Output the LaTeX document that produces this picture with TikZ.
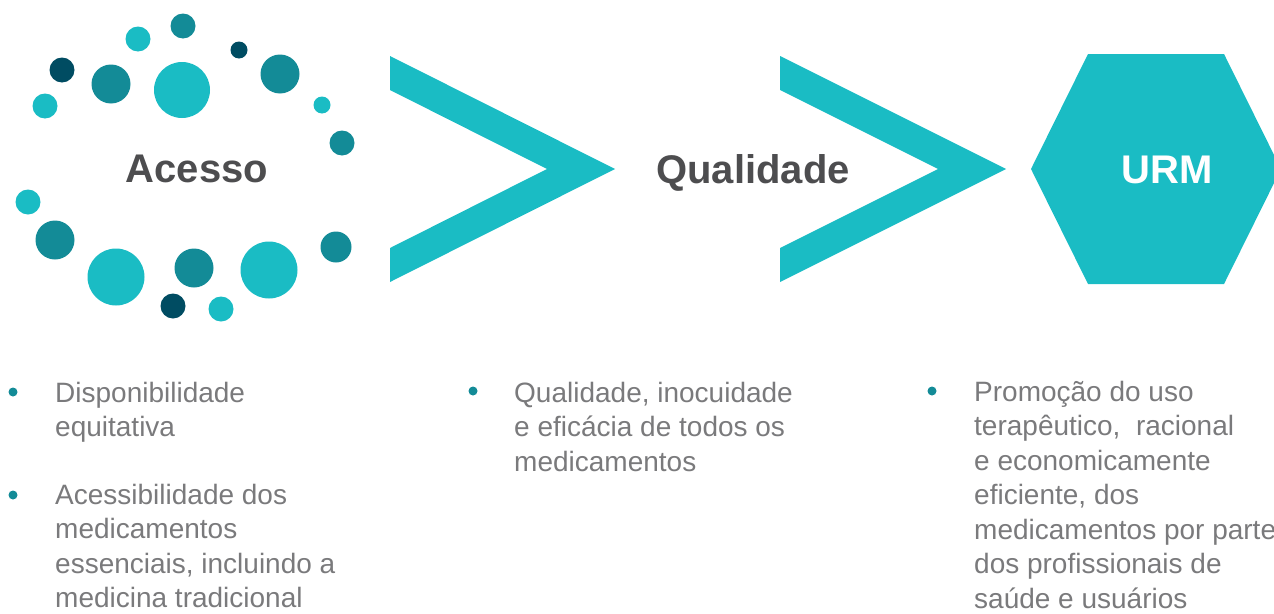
\documentclass[tikz,border=0pt]{standalone}
\usepackage{fontspec}
\setmainfont{Liberation Sans}
\definecolor{cyanc}{RGB}{26,188,196}
\definecolor{tealc}{RGB}{19,139,151}
\definecolor{darkc}{RGB}{0,76,98}
\definecolor{titlegray}{RGB}{77,77,79}
\definecolor{bodygray}{RGB}{122,122,124}
\begin{document}
\begin{tikzpicture}[x=1pt,y=-1pt,
  title/.style={font=\fontsize{40}{48}\selectfont\bfseries, text=titlegray, inner sep=0pt, anchor=base},
  body/.style={font=\fontsize{28}{34.5}\selectfont, text=bodygray, inner sep=0pt, anchor=north west, align=left},
  bullet/.style={circle, fill=tealc, minimum size=9pt, inner sep=0pt}]
\useasboundingbox (0,0) rectangle (1274,613);
% circle cluster
\fill[tealc] (183,26) circle[radius=12.5pt];
\fill[cyanc] (138,39) circle[radius=12.5pt];
\fill[darkc] (239,50) circle[radius=8.5pt];
\fill[darkc] (62,70) circle[radius=12.5pt];
\fill[tealc] (111,84) circle[radius=19.5pt];
\fill[cyanc] (182,90) circle[radius=28pt];
\fill[tealc] (280,74) circle[radius=19.5pt];
\fill[cyanc] (45,106) circle[radius=12.5pt];
\fill[cyanc] (322,105) circle[radius=8.5pt];
\fill[tealc] (342,143) circle[radius=12.5pt];
\fill[cyanc] (28,202) circle[radius=12.5pt];
\fill[tealc] (55,240) circle[radius=19.5pt];
\fill[cyanc] (116,277) circle[radius=28.5pt];
\fill[tealc] (194,268) circle[radius=19.5pt];
\fill[cyanc] (269,270) circle[radius=28.5pt];
\fill[tealc] (336,247) circle[radius=15.5pt];
\fill[darkc] (173,306) circle[radius=12.5pt];
\fill[cyanc] (221,309) circle[radius=12.5pt];
% chevrons
\fill[cyanc] (390,56) -- (615,169) -- (390,282) -- (390,248) -- (547,169) -- (390,90) -- cycle;
\fill[cyanc] (780,56) -- (1006,169) -- (780,282) -- (780,248) -- (938,169) -- (780,90) -- cycle;
% hexagon
\fill[cyanc] (1088,54) -- (1224,54) -- (1281,169) -- (1224,284) -- (1088,284) -- (1031,169) -- cycle;
% titles
\node[title] (acesso) at (197,182) {Acesso};
\node[title] (qualidade) at (753,183) {Qualidade};
\node[title, text=white] (urm) at (1167,183) {URM};
% bullets
\node[bullet] (b1) at (13,392) {};
\node[bullet] (b2) at (13,495) {};
\node[bullet] (b3) at (473,391) {};
\node[bullet] (b4) at (932,391) {};
% body text
\node[body] (t1) at (55,382) {Disponibilidade\\equitativa};
\node[body] (t2) at (55,484) {Acessibilidade dos\\medicamentos\\essenciais, incluindo a\\medicina tradicional};
\node[body] (t3) at (514,382) {Qualidade, inocuidade\\e eficácia de todos os\\medicamentos};
\node[body] (t4) at (974,381) {Promoção do uso\\terapêutico,\ \ racional\\e economicamente\\eficiente, dos\\medicamentos por parte\\dos profissionais de\\saúde e usuários};
\end{tikzpicture}
\end{document}
